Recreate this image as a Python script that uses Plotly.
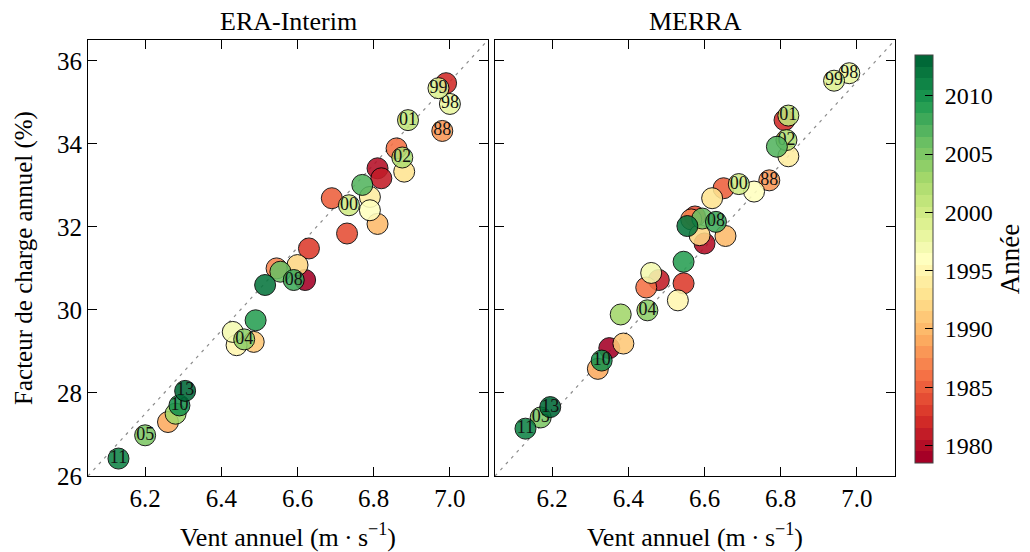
import plotly.graph_objects as go
from plotly.colors import sample_colorscale

years = list(range(1979, 2014))

# ERA-Interim: annual wind (m/s) and capacity factor (%)
era_wind = [6.62, 6.81, 6.82, 6.99, 6.63, 6.73, 6.69, 6.86, 6.545, 6.98,
            6.26, 6.81, 6.485, 6.60, 6.88, 6.79, 6.44, 6.79, 6.43, 7.00,
            6.97, 6.735, 6.89, 6.875, 6.28, 6.46, 6.20, 6.555, 6.77, 6.59,
            6.49, 6.29, 6.13, 6.515, 6.305]
era_cf = [30.72, 33.41, 33.17, 35.46, 31.48, 31.84, 32.69, 33.89, 31.00, 34.31,
          27.30, 32.07, 29.23, 31.08, 33.33, 32.72, 29.15, 32.40, 29.47, 34.96,
          35.34, 32.52, 34.57, 33.67, 27.50, 29.29, 26.98, 30.92, 33.01, 30.72,
          29.75, 27.70, 26.42, 30.60, 28.05]

# MERRA
merra_wind = [6.35, 6.60, 6.48, 6.81, 6.545, 6.575, 6.65, 6.447, 6.565, 6.77,
              6.32, 6.655, 6.387, 6.587, 6.62, 6.82, 6.53, 6.73, 6.46, 6.98,
              6.94, 6.69, 6.82, 6.815, 6.38, 6.45, 6.17, 6.594, 6.79, 6.63,
              6.545, 6.33, 6.13, 6.555, 6.195]
merra_cf = [29.08, 31.60, 30.72, 34.57, 30.64, 32.25, 32.93, 30.54, 32.18, 33.12,
            28.58, 31.78, 29.19, 31.80, 32.69, 33.70, 30.23, 32.85, 30.89, 35.70,
            35.52, 33.03, 34.68, 34.09, 29.89, 29.99, 27.41, 32.20, 33.93, 32.12,
            31.16, 28.78, 27.14, 32.02, 27.66]

labelled_years = [1988, 1998, 1999, 2000, 2001, 2002, 2004, 2005, 2008, 2010, 2011, 2013]

panel_titles = ["ERA-Interim", "MERRA"]
x_range = [6.05, 7.1]
y_range = [26.0, 36.5]
x_ticks = [6.2, 6.4, 6.6, 6.8, 7.0]
y_ticks = [26, 28, 30, 32, 34, 36]
cbar_ticks = [1980, 1985, 1990, 1995, 2000, 2005, 2010]

FONT = "Liberation Serif"

# discrete RdYlGn colour scale, one step per year
n = len(years)
cols = sample_colorscale("RdYlGn", [i / (n - 1) for i in range(n)])
cscale = []
for i, c in enumerate(cols):
    cscale.append([i / n, c])
    cscale.append([(i + 1) / n, c])

fig = go.Figure()

panels = [(era_wind, era_cf, "x", "y"), (merra_wind, merra_cf, "x2", "y2")]
for wind, cf, xa, ya in panels:
    fig.add_trace(go.Scatter(
        x=x_range, y=y_range, mode="lines", xaxis=xa, yaxis=ya,
        line=dict(color="#8c8c8c", width=1.2, dash="3px,5px"),
        hoverinfo="skip", showlegend=False))
    for yr, w, c in zip(years, wind, cf):
        lab = str(yr)[2:] if yr in labelled_years else ""
        fig.add_trace(go.Scatter(
            x=[w], y=[c], mode="markers+text", xaxis=xa, yaxis=ya,
            text=[lab], textposition="middle center",
            textfont=dict(family=FONT, size=18, color="#111111"),
            marker=dict(size=21, color=[yr], coloraxis="coloraxis",
                        opacity=0.88, line=dict(color="black", width=1)),
            showlegend=False))

axis_common = dict(
    range=x_range, tickvals=x_ticks, ticktext=[f"{v:.1f}" for v in x_ticks],
    ticks="inside", ticklen=9, tickwidth=1, tickcolor="black",
    showline=True, linecolor="black", linewidth=1, mirror="ticks",
    showgrid=False, zeroline=False, automargin=False,
    tickfont=dict(family=FONT, size=25, color="black"),
    title=dict(text="Vent annuel (m\u2009·\u2009s<sup>\u22121</sup>)",
               font=dict(family=FONT, size=26, color="black"), standoff=16),
)
yaxis_common = dict(
    range=y_range, tickvals=y_ticks,
    ticks="inside", ticklen=9, tickwidth=1, tickcolor="black",
    showline=True, linecolor="black", linewidth=1, mirror="ticks",
    showgrid=False, zeroline=False, automargin=False,
    tickfont=dict(family=FONT, size=25, color="black"),
)

# the page body adds an 8 px offset, so the figure is 8 px smaller
OFF = 8
W, H = 1030 - OFF, 552 - OFF
ml, mt = 88 - OFF, 40 - OFF
pw, ph = 807, 436
mr = W - ml - pw
mb = H - mt - ph

fig.update_layout(
    width=W, height=H,
    margin=dict(l=ml, r=mr, t=mt, b=mb, autoexpand=False),
    paper_bgcolor="white", plot_bgcolor="white",
    xaxis=dict(domain=[0, 400 / pw], anchor="y", **axis_common),
    xaxis2=dict(domain=[407 / pw, 1], anchor="y2", **axis_common),
    yaxis=dict(domain=[0, 1], anchor="x",
               title=dict(text="Facteur de charge annuel (%)",
                          font=dict(family=FONT, size=25, color="black"), standoff=17),
               **yaxis_common),
    yaxis2=dict(domain=[0, 1], anchor="x2", showticklabels=False, **yaxis_common),
    coloraxis=dict(
        colorscale=cscale, cmin=years[0] - 0.5, cmax=years[-1] + 0.5,
        colorbar=dict(
            x=(915 - 88) / pw, xanchor="left", xref="paper", xpad=0, ypad=0,
            y=(476 - 259) / ph, yanchor="middle",
            len=408 / ph, lenmode="fraction", thickness=18,
            outlinecolor="#444444", outlinewidth=1,
            tickvals=cbar_ticks, ticktext=["\u00a0" + str(t) for t in cbar_ticks],
            ticks="inside", ticklen=8, tickcolor="black",
            tickfont=dict(family=FONT, size=24, color="black"),
            title=dict(text="Année", side="right",
                       font=dict(family=FONT, size=27, color="black")),
        ),
    ),
    annotations=[
        dict(text=panel_titles[0], xref="x domain", yref="paper", x=0.5, y=1,
             xanchor="center", yanchor="bottom", yshift=2, showarrow=False,
             font=dict(family=FONT, size=26, color="black")),
        dict(text=panel_titles[1], xref="x2 domain", yref="paper", x=0.5, y=1,
             xanchor="center", yanchor="bottom", yshift=2, showarrow=False,
             font=dict(family=FONT, size=26, color="black")),
    ],
)

fig.write_html("out.html")
